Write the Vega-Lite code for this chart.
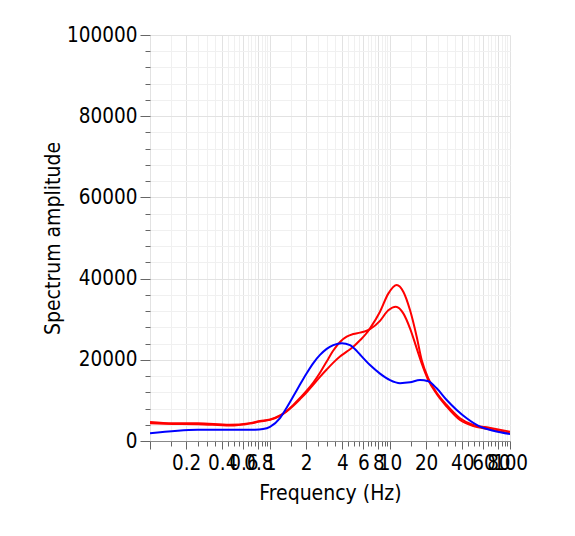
{
  "$schema": "https://vega.github.io/schema/vega-lite/v6.json",
  "autosize": "none",
  "width": 360,
  "height": 406,
  "padding": {"left": 150, "top": 35, "right": 65, "bottom": 95},
  "background": "white",
  "config": {
    "font": "DejaVu Sans Condensed, Liberation Sans, sans-serif",
    "view": {"stroke": null},
    "axis": {
      "labelFont": "DejaVu Sans Condensed, Liberation Sans, sans-serif",
      "titleFont": "DejaVu Sans Condensed, Liberation Sans, sans-serif",
      "labelColor": "#000000",
      "titleColor": "#000000",
      "titleFontWeight": "normal",
      "labelFontSize": 20.5,
      "titleFontSize": 21,
      "tickColor": "#666666",
      "labelBound": false,
      "labelFlush": false,
      "labelOverlap": false
    }
  },
  "data": {
    "values": [
      {"series": "Series 1", "f": 0.1, "v": 4700},
      {"series": "Series 1", "f": 0.155, "v": 4400},
      {"series": "Series 1", "f": 0.25, "v": 4400},
      {"series": "Series 1", "f": 0.46, "v": 4000},
      {"series": "Series 1", "f": 0.68, "v": 4400},
      {"series": "Series 1", "f": 0.825, "v": 4900},
      {"series": "Series 1", "f": 1.0, "v": 5300},
      {"series": "Series 1", "f": 1.212, "v": 6300},
      {"series": "Series 1", "f": 1.377, "v": 7400},
      {"series": "Series 1", "f": 1.564, "v": 8900},
      {"series": "Series 1", "f": 1.778, "v": 10600},
      {"series": "Series 1", "f": 2.022, "v": 12400},
      {"series": "Series 1", "f": 2.296, "v": 14400},
      {"series": "Series 1", "f": 2.61, "v": 16800},
      {"series": "Series 1", "f": 2.968, "v": 19600},
      {"series": "Series 1", "f": 3.37, "v": 22300},
      {"series": "Series 1", "f": 3.831, "v": 24400},
      {"series": "Series 1", "f": 4.356, "v": 25690},
      {"series": "Series 1", "f": 4.943, "v": 26350},
      {"series": "Series 1", "f": 5.623, "v": 26700},
      {"series": "Series 1", "f": 6.394, "v": 27150},
      {"series": "Series 1", "f": 6.813, "v": 27550},
      {"series": "Series 1", "f": 8.254, "v": 29600},
      {"series": "Series 1", "f": 9.68, "v": 32200},
      {"series": "Series 1", "f": 11.2, "v": 33080},
      {"series": "Series 1", "f": 12.91, "v": 31440},
      {"series": "Series 1", "f": 14.68, "v": 27750},
      {"series": "Series 1", "f": 16.69, "v": 22830},
      {"series": "Series 1", "f": 18.37, "v": 19130},
      {"series": "Series 1", "f": 20.85, "v": 15020},
      {"series": "Series 1", "f": 24.49, "v": 11570},
      {"series": "Series 1", "f": 29.68, "v": 8460},
      {"series": "Series 1", "f": 38.3, "v": 5170},
      {"series": "Series 1", "f": 49.43, "v": 3690},
      {"series": "Series 1", "f": 63.94, "v": 3040},
      {"series": "Series 1", "f": 100, "v": 1890},
      {"series": "Series 2", "f": 0.1, "v": 4350},
      {"series": "Series 2", "f": 0.155, "v": 4200},
      {"series": "Series 2", "f": 0.25, "v": 4150},
      {"series": "Series 2", "f": 0.46, "v": 3800},
      {"series": "Series 2", "f": 0.68, "v": 4300},
      {"series": "Series 2", "f": 0.825, "v": 4800},
      {"series": "Series 2", "f": 1.0, "v": 5200},
      {"series": "Series 2", "f": 1.212, "v": 6200},
      {"series": "Series 2", "f": 1.377, "v": 7300},
      {"series": "Series 2", "f": 1.564, "v": 8700},
      {"series": "Series 2", "f": 1.778, "v": 10300},
      {"series": "Series 2", "f": 2.022, "v": 12000},
      {"series": "Series 2", "f": 2.296, "v": 13900},
      {"series": "Series 2", "f": 2.61, "v": 15800},
      {"series": "Series 2", "f": 2.968, "v": 17600},
      {"series": "Series 2", "f": 3.37, "v": 19300},
      {"series": "Series 2", "f": 3.831, "v": 20800},
      {"series": "Series 2", "f": 4.356, "v": 22000},
      {"series": "Series 2", "f": 4.943, "v": 23200},
      {"series": "Series 2", "f": 5.623, "v": 24800},
      {"series": "Series 2", "f": 6.394, "v": 26600},
      {"series": "Series 2", "f": 6.813, "v": 27750},
      {"series": "Series 2", "f": 8.254, "v": 31850},
      {"series": "Series 2", "f": 9.68, "v": 36300},
      {"series": "Series 2", "f": 11.37, "v": 38420},
      {"series": "Series 2", "f": 12.91, "v": 36780},
      {"series": "Series 2", "f": 14.68, "v": 32260},
      {"series": "Series 2", "f": 16.69, "v": 25690},
      {"series": "Series 2", "f": 18.37, "v": 19950},
      {"series": "Series 2", "f": 20.85, "v": 15440},
      {"series": "Series 2", "f": 24.49, "v": 11900},
      {"series": "Series 2", "f": 29.68, "v": 8870},
      {"series": "Series 2", "f": 38.3, "v": 5590},
      {"series": "Series 2", "f": 49.43, "v": 3940},
      {"series": "Series 2", "f": 63.94, "v": 3370},
      {"series": "Series 2", "f": 100, "v": 2300},
      {"series": "Series 3", "f": 0.1, "v": 1900},
      {"series": "Series 3", "f": 0.25, "v": 2800},
      {"series": "Series 3", "f": 0.46, "v": 2750},
      {"series": "Series 3", "f": 0.75, "v": 2800},
      {"series": "Series 3", "f": 0.874, "v": 2950},
      {"series": "Series 3", "f": 1.0, "v": 3500},
      {"series": "Series 3", "f": 1.212, "v": 5660},
      {"series": "Series 3", "f": 1.377, "v": 8200},
      {"series": "Series 3", "f": 1.564, "v": 11000},
      {"series": "Series 3", "f": 1.778, "v": 13900},
      {"series": "Series 3", "f": 2.022, "v": 16700},
      {"series": "Series 3", "f": 2.296, "v": 19200},
      {"series": "Series 3", "f": 2.61, "v": 21200},
      {"series": "Series 3", "f": 2.968, "v": 22700},
      {"series": "Series 3", "f": 3.37, "v": 23600},
      {"series": "Series 3", "f": 3.958, "v": 24100},
      {"series": "Series 3", "f": 4.642, "v": 23600},
      {"series": "Series 3", "f": 5.279, "v": 22200},
      {"series": "Series 3", "f": 5.623, "v": 21300},
      {"series": "Series 3", "f": 6.813, "v": 18700},
      {"series": "Series 3", "f": 8.254, "v": 16600},
      {"series": "Series 3", "f": 10, "v": 15000},
      {"series": "Series 3", "f": 12.12, "v": 14250},
      {"series": "Series 3", "f": 14.68, "v": 14450},
      {"series": "Series 3", "f": 17.78, "v": 15000},
      {"series": "Series 3", "f": 20.85, "v": 14700},
      {"series": "Series 3", "f": 24.49, "v": 12980},
      {"series": "Series 3", "f": 29.68, "v": 10100},
      {"series": "Series 3", "f": 35.96, "v": 7640},
      {"series": "Series 3", "f": 43.56, "v": 5590},
      {"series": "Series 3", "f": 56.23, "v": 3520},
      {"series": "Series 3", "f": 72.6, "v": 2540},
      {"series": "Series 3", "f": 100, "v": 1720}
    ]
  },
  "mark": {"type": "line", "interpolate": "monotone", "strokeWidth": 2, "clip": true},
  "encoding": {
    "x": {
      "field": "f",
      "type": "quantitative",
      "scale": {"type": "log", "domain": [0.1, 100], "nice": false},
      "axis": {
        "title": "Frequency (Hz)",
        "values": [0.1, 0.15, 0.2, 0.25, 0.3, 0.35, 0.4, 0.45, 0.5, 0.55, 0.6, 0.65, 0.7, 0.75, 0.8, 0.85, 0.9, 0.95, 1, 1.5, 2, 2.5, 3, 3.5, 4, 4.5, 5, 5.5, 6, 6.5, 7, 7.5, 8, 8.5, 9, 9.5, 10, 15, 20, 25, 30, 35, 40, 45, 50, 55, 60, 65, 70, 75, 80, 85, 90, 95, 100],
        "labelExpr": "indexof([0.2, 0.4, 0.6, 0.8, 1, 2, 4, 6, 8, 10, 20, 40, 60, 80, 100], datum.value) >= 0 ? format(datum.value, '~g') : ''",
        "tickSize": {"condition": {"test": "indexof([0.1, 0.2, 0.4, 0.6, 0.8, 1, 2, 4, 6, 8, 10, 20, 40, 60, 80, 100], datum.value) >= 0", "value": 8}, "value": 5},
        "gridColor": {"condition": {"test": "indexof([0.1, 0.2, 0.4, 0.6, 0.8, 1, 2, 4, 6, 8, 10, 20, 40, 60, 80, 100], datum.value) >= 0", "value": "#e2e2e2"}, "value": "#f0f0f0"},
        "domain": true,
        "domainColor": "#888888",
        "labelPadding": 4,
        "titlePadding": 9
      }
    },
    "y": {
      "field": "v",
      "type": "quantitative",
      "scale": {"domain": [0, 100000], "nice": false},
      "axis": {
        "title": "Spectrum amplitude",
        "values": [0, 4000, 8000, 12000, 16000, 20000, 24000, 28000, 32000, 36000, 40000, 44000, 48000, 52000, 56000, 60000, 64000, 68000, 72000, 76000, 80000, 84000, 88000, 92000, 96000, 100000],
        "labelExpr": "datum.value % 20000 === 0 ? format(datum.value, 'd') : ''",
        "tickSize": {"condition": {"test": "datum.value % 20000 === 0", "value": 10}, "value": 5},
        "gridColor": {"condition": {"test": "datum.value % 20000 === 0", "value": "#e2e2e2"}, "value": "#f0f0f0"},
        "domain": false,
        "labelPadding": 3,
        "titlePadding": 3
      }
    },
    "color": {
      "field": "series",
      "type": "nominal",
      "scale": {"domain": ["Series 1", "Series 2", "Series 3"], "range": ["#ff0000", "#ff0000", "#0000ff"]},
      "legend": null
    }
  }
}
